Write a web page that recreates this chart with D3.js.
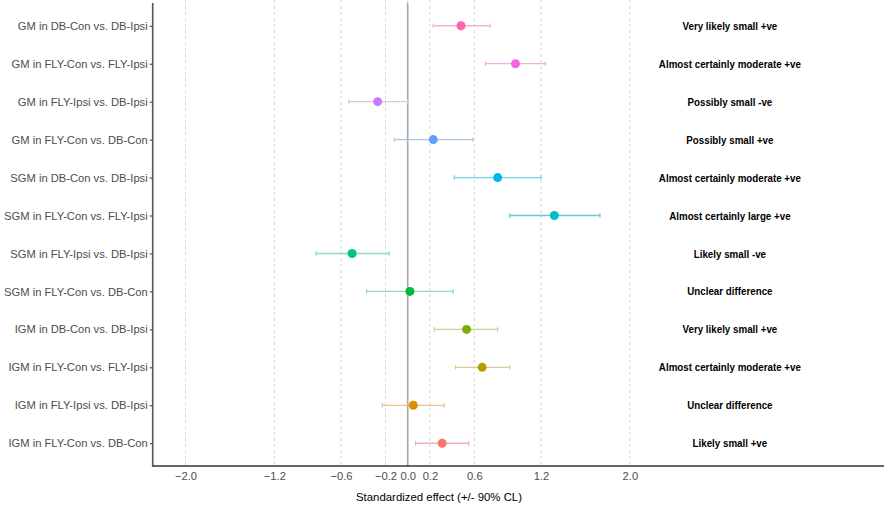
<!DOCTYPE html>
<html><head><meta charset="utf-8">
<script src="https://cdn.jsdelivr.net/npm/d3@7"></script>
<style>body{margin:0;background:#fff}svg{display:block}</style>
</head><body>
<svg id="c" width="886" height="506"></svg>
<script>
const categories = [
  "GM in DB-Con vs. DB-Ipsi",
  "GM in FLY-Con vs. FLY-Ipsi",
  "GM in FLY-Ipsi vs. DB-Ipsi",
  "GM in FLY-Con vs. DB-Con",
  "SGM in DB-Con vs. DB-Ipsi",
  "SGM in FLY-Con vs. FLY-Ipsi",
  "SGM in FLY-Ipsi vs. DB-Ipsi",
  "SGM in FLY-Con vs. DB-Con",
  "IGM in DB-Con vs. DB-Ipsi",
  "IGM in FLY-Con vs. FLY-Ipsi",
  "IGM in FLY-Ipsi vs. DB-Ipsi",
  "IGM in FLY-Con vs. DB-Con"
];
const effect = [0.48, 0.97, -0.27, 0.23, 0.81, 1.32, -0.50, 0.02, 0.53, 0.67, 0.05, 0.31];
const lower  = [0.23, 0.70, -0.53, -0.12, 0.42, 0.92, -0.825, -0.37, 0.24, 0.43, -0.23, 0.07];
const upper  = [0.74, 1.24, 0.00, 0.585, 1.20, 1.73, -0.165, 0.41, 0.81, 0.92, 0.33, 0.55];
const inference = [
  "Very likely small +ve",
  "Almost certainly moderate +ve",
  "Possibly small -ve",
  "Possibly small +ve",
  "Almost certainly moderate +ve",
  "Almost certainly large +ve",
  "Likely small -ve",
  "Unclear difference",
  "Very likely small +ve",
  "Almost certainly moderate +ve",
  "Unclear difference",
  "Likely small +ve"
];
const xTicks = [-2.0, -1.2, -0.6, -0.2, 0.0, 0.2, 0.6, 1.2, 2.0];
const labelX = 2.9;
const pointColors = ["#FF64B0","#F564E3","#C77CFF","#619CFF","#00B4F0","#00BFC4","#00C08B","#00BA38","#7CAE00","#B79F00","#DE8C00","#F8766D"];
const barColors = ["#f4b6cf","#eeb2da","#e2c2e6","#a9c9e4","#72d2da","#62cdd0","#8adbc8","#8fdcc4","#c6d29a","#d8cf9c","#e6c48e","#f4b2b0"];

const FONT = "Liberation Sans, Arial, sans-serif";
const svg = d3.select("#c");
const L = 152.7, R = 884, T = 3, B = 466;
const x = d3.scaleLinear().domain([-2.295, 4.287]).range([L, R]);
const y = d3.scalePoint().domain(categories).range([T, B]).padding(0.6);

// grid
svg.append("g").selectAll("line").data(xTicks).join("line")
  .attr("x1", d => x(d)).attr("x2", d => x(d)).attr("y1", T - 3).attr("y2", B)
  .attr("stroke", "#d6d6d6").attr("stroke-width", 1).attr("stroke-dasharray", "3,3");

// zero line
svg.append("line").attr("x1", x(0)).attr("x2", x(0)).attr("y1", T).attr("y2", B)
  .attr("stroke", "#a8a8a8").attr("stroke-width", 1.6);

// error bars
const eb = svg.append("g").selectAll("g").data(categories).join("g");
eb.append("line")
  .attr("x1", (d, i) => x(lower[i])).attr("x2", (d, i) => x(upper[i]))
  .attr("y1", d => y(d)).attr("y2", d => y(d))
  .attr("stroke", (d, i) => barColors[i]).attr("stroke-width", 1.3);
eb.append("line")
  .attr("x1", (d, i) => x(lower[i])).attr("x2", (d, i) => x(lower[i]))
  .attr("y1", d => y(d) - 2.2).attr("y2", d => y(d) + 2.2)
  .attr("stroke", (d, i) => barColors[i]).attr("stroke-width", 1.3);
eb.append("line")
  .attr("x1", (d, i) => x(upper[i])).attr("x2", (d, i) => x(upper[i]))
  .attr("y1", d => y(d) - 2.2).attr("y2", d => y(d) + 2.2)
  .attr("stroke", (d, i) => barColors[i]).attr("stroke-width", 1.3);

// points
svg.append("g").selectAll("circle").data(categories).join("circle")
  .attr("cx", (d, i) => x(effect[i])).attr("cy", d => y(d)).attr("r", 4.5)
  .attr("fill", (d, i) => pointColors[i]);

// inference labels (condensed to match reference font width)
const inf = svg.append("g").selectAll("text").data(categories).join("text")
  .attr("x", x(labelX)).attr("y", d => y(d)).attr("dy", "0.35em")
  .attr("text-anchor", "middle")
  .style("font-family", FONT)
  .style("font-size", "11.5px").style("font-weight", "bold").attr("fill", "#000")
  .text((d, i) => inference[i]);
inf.each(function () {
  const w = this.getComputedTextLength();
  d3.select(this).attr("textLength", w * 0.85).attr("lengthAdjust", "spacingAndGlyphs");
});

// y axis
const yAxis = svg.append("g").attr("transform", `translate(${L},0)`)
  .call(d3.axisLeft(y).tickSize(3).tickPadding(2));
yAxis.select(".domain").remove();
yAxis.selectAll(".tick line").attr("stroke", "#333");
yAxis.selectAll(".tick text").attr("fill", "#4d4d4d")
  .style("font-family", FONT).style("font-size", "11.2px");
svg.append("line").attr("x1", L).attr("x2", L).attr("y1", T).attr("y2", B + 0.7)
  .attr("stroke", "#555").attr("stroke-width", 1.6);

// x axis
const xAxis = svg.append("g").attr("transform", `translate(0,${B})`)
  .call(d3.axisBottom(x).tickValues(xTicks).tickFormat(d3.format(".1f")).tickSize(0).tickPadding(6));
xAxis.select(".domain").remove();
xAxis.selectAll(".tick text").attr("fill", "#4d4d4d")
  .style("font-family", FONT).style("font-size", "11.2px");
svg.append("line").attr("x1", L).attr("x2", R).attr("y1", B).attr("y2", B)
  .attr("stroke", "#333").attr("stroke-width", 1.6);

svg.append("text").attr("x", 439).attr("y", 501).attr("text-anchor", "middle")
  .style("font-family", FONT).style("font-size", "11.4px")
  .attr("fill", "#000").text("Standardized effect (+/- 90% CL)");
</script>
</body></html>
